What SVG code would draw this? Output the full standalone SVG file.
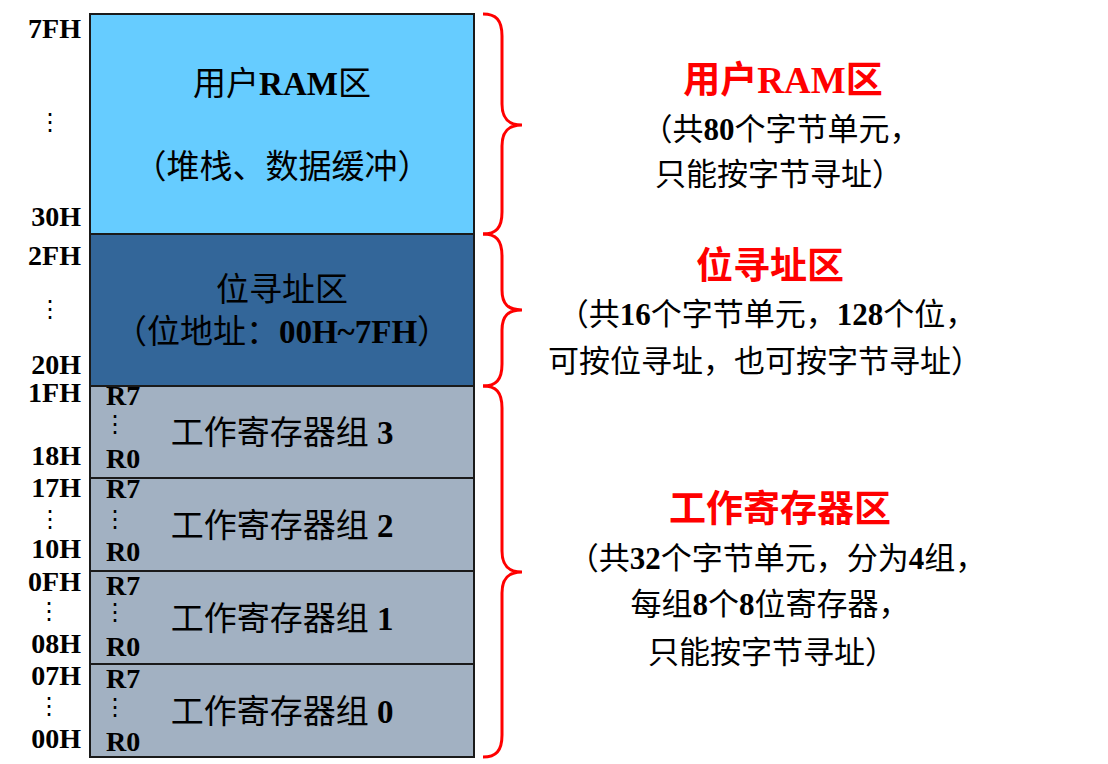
<svg xmlns="http://www.w3.org/2000/svg" width="1108" height="764" viewBox="0 0 1108 764">
<style>
.addr{font-family:"Liberation Serif",serif;font-weight:bold;font-size:28px;fill:#000;text-anchor:end}
.reg{font-family:"Liberation Serif",serif;font-weight:bold;font-size:28px;fill:#000}
.dots{font-family:"DejaVu Sans",sans-serif;font-size:24px;fill:#000;text-anchor:middle}
.cn{font-family:"Liberation Serif","Noto Sans CJK SC",serif;fill:#000;text-anchor:middle}
.box{font-size:33px}
.side{font-size:31px}
.title{font-size:37px;font-weight:bold;fill:#ff0000}
.b{font-weight:bold}
.brace{fill:none;stroke:#ff0000;stroke-width:3}
.cell{stroke:#1a1a1a;stroke-width:2}
</style>
<rect width="1108" height="764" fill="#ffffff"/>

<g id="user-ram">
<rect class="cell" x="90" y="14" width="384" height="220" fill="#66CCFF"/>
<text class="cn box" x="282" y="95">用户<tspan class="b">RAM</tspan>区</text>
<text class="cn box" x="282" y="178">（堆栈、数据缓冲）</text>
</g>

<g id="bit-area">
<rect class="cell" x="90" y="234" width="384" height="152" fill="#336699"/>
<text class="cn box" x="282" y="301">位寻址区</text>
<text class="cn box" x="282" y="343">（位地址：<tspan class="b">00H~7FH</tspan>）</text>
</g>

<g id="reg-bank-3">
<rect class="cell" x="90" y="386" width="384" height="92" fill="#A2B1C2"/>
<text class="cn box" x="282" y="444">工作寄存器组 <tspan class="b">3</tspan></text>
<text class="reg" x="106" y="405">R7</text>
<text class="dots" x="115" y="432">⋮</text>
<text class="reg" x="106" y="468">R0</text>
</g>

<g id="reg-bank-2">
<rect class="cell" x="90" y="478" width="384" height="93" fill="#A2B1C2"/>
<text class="cn box" x="282" y="537">工作寄存器组 <tspan class="b">2</tspan></text>
<text class="reg" x="106" y="498">R7</text>
<text class="dots" x="115" y="527">⋮</text>
<text class="reg" x="106" y="561">R0</text>
</g>

<g id="reg-bank-1">
<rect class="cell" x="90" y="571" width="384" height="93" fill="#A2B1C2"/>
<text class="cn box" x="282" y="630">工作寄存器组 <tspan class="b">1</tspan></text>
<text class="reg" x="106" y="595">R7</text>
<text class="dots" x="115" y="620">⋮</text>
<text class="reg" x="106" y="656">R0</text>
</g>

<g id="reg-bank-0">
<rect class="cell" x="90" y="664" width="384" height="93" fill="#A2B1C2"/>
<text class="cn box" x="282" y="723">工作寄存器组 <tspan class="b">0</tspan></text>
<text class="reg" x="106" y="688">R7</text>
<text class="dots" x="115" y="715">⋮</text>
<text class="reg" x="106" y="751">R0</text>
</g>

<g id="addresses">
<text class="addr" x="81" y="38">7FH</text>
<text class="dots" x="50" y="130">⋮</text>
<text class="addr" x="81" y="226">30H</text>
<text class="addr" x="81" y="265">2FH</text>
<text class="dots" x="50" y="317">⋮</text>
<text class="addr" x="81" y="374">20H</text>
<text class="addr" x="81" y="402">1FH</text>
<text class="addr" x="81" y="465">18H</text>
<text class="addr" x="81" y="497">17H</text>
<text class="dots" x="50" y="527">⋮</text>
<text class="addr" x="81" y="558">10H</text>
<text class="addr" x="81" y="591">0FH</text>
<text class="dots" x="49" y="619">⋮</text>
<text class="addr" x="81" y="653">08H</text>
<text class="addr" x="81" y="685">07H</text>
<text class="dots" x="49" y="714">⋮</text>
<text class="addr" x="81" y="748">00H</text>
</g>

<g id="connectors">
<path class="brace" d="M483,14 C496,14 502,20 502,36 L502,104 C502,118 508,125 522,125 C508,125 502,132 502,146 L502,212 C502,228 496,234 483,234"/>
<path class="brace" d="M483,234 C496,234 502,240 502,256 L502,290 C502,304 508,310 522,310 C508,310 502,316 502,330 L502,364 C502,380 496,386 483,386"/>
<path class="brace" d="M483,386 C496,386 502,392 502,408 L502,551 C502,565 508,572 522,572 C508,572 502,579 502,593 L502,735 C502,751 496,757 483,757"/>
</g>

<g id="desc-user-ram">
<text class="cn title" x="783" y="93">用户RAM区</text>
<text class="cn side" x="781" y="140">（共<tspan class="b">80</tspan>个字节单元，</text>
<text class="cn side" x="779" y="185">只能按字节寻址）</text>
</g>

<g id="desc-bit-area">
<text class="cn title" x="770" y="279">位寻址区</text>
<text class="cn side" x="767" y="325">（共<tspan class="b">16</tspan>个字节单元，<tspan class="b">128</tspan>个位，</text>
<text class="cn side" x="765" y="372">可按位寻址，也可按字节寻址）</text>
</g>

<g id="desc-registers">
<text class="cn title" x="780" y="522">工作寄存器区</text>
<text class="cn side" x="777" y="569">（共<tspan class="b">32</tspan>个字节单元，分为<tspan class="b">4</tspan>组，</text>
<text class="cn side" x="770" y="615">每组<tspan class="b">8</tspan>个<tspan class="b">8</tspan>位寄存器，</text>
<text class="cn side" x="772" y="663">只能按字节寻址）</text>
</g>
</svg>
